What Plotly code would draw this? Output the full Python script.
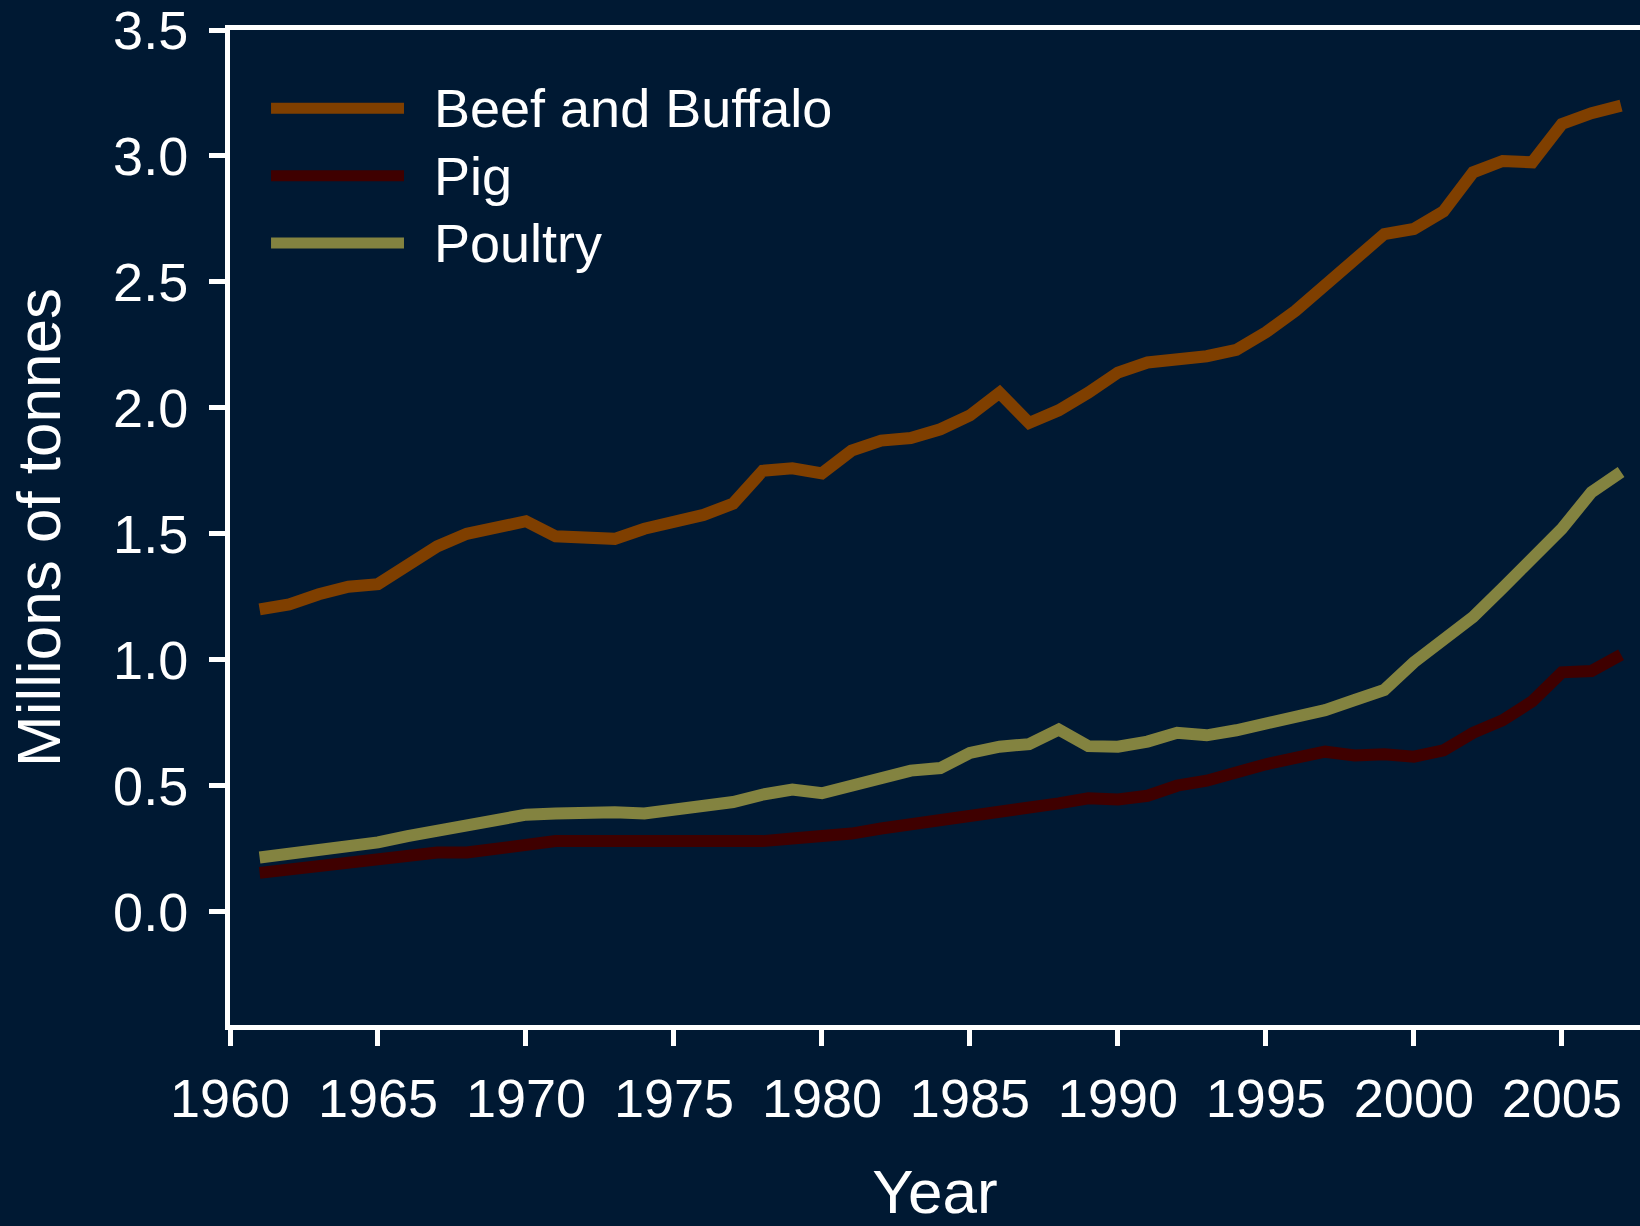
import plotly.graph_objects as go

BG = "#001933"
FONT = "Liberation Sans, Arial, sans-serif"

years = list(range(1961, 2008))

beef = [1.20, 1.22, 1.26, 1.29, 1.30, 1.38, 1.45, 1.50, 1.52, 1.55,
        1.49, 1.48, 1.48, 1.52, 1.55, 1.575, 1.62, 1.75, 1.76, 1.74,
        1.83, 1.87, 1.88, 1.915, 1.97, 2.06, 1.94, 1.99, 2.06, 2.14,
        2.18, 2.19, 2.205, 2.23, 2.30, 2.385, 2.487, 2.577, 2.69, 2.71,
        2.78, 2.935, 2.98, 2.975, 3.127, 3.17, 3.20]

pig = [0.154, 0.166, 0.18, 0.20, 0.21, 0.225, 0.235, 0.235, 0.25, 0.265,
       0.28, 0.28, 0.28, 0.275, 0.275, 0.275, 0.275, 0.28, 0.29, 0.295,
       0.31, 0.33, 0.345, 0.36, 0.375, 0.39, 0.415, 0.43, 0.45, 0.445,
       0.46, 0.50, 0.52, 0.555, 0.585, 0.61, 0.635, 0.62, 0.625, 0.615,
       0.64, 0.71, 0.76, 0.835, 0.95, 0.955, 1.02]

poultry = [0.215, 0.23, 0.24, 0.255, 0.275, 0.30, 0.32, 0.335, 0.36, 0.385,
           0.39, 0.395, 0.395, 0.39, 0.405, 0.425, 0.435, 0.465, 0.485, 0.47,
           0.50, 0.535, 0.56, 0.57, 0.63, 0.655, 0.665, 0.723, 0.657, 0.655,
           0.675, 0.71, 0.70, 0.72, 0.745, 0.77, 0.80, 0.84, 0.88, 0.99,
           1.08, 1.17, 1.285, 1.41, 1.52, 1.665, 1.745]

names = ["Beef and Buffalo", "Pig", "Poultry"]
colors = ["#7F3F00", "#3F0000", "#838340"]
y_ticks = [0.0, 0.5, 1.0, 1.5, 2.0, 2.5, 3.0, 3.5]
x_ticks = [1960, 1965, 1970, 1975, 1980, 1985, 1990, 1995, 2000, 2005]

fig = go.Figure()
for name, vals, col in zip(names, [beef, pig, poultry], colors):
    fig.add_trace(go.Scatter(x=years, y=vals, mode="lines", name=name,
                             line=dict(color=col, width=12),
                             showlegend=False))

# hand-made legend (long key lines like the original)
for i, (name, col) in enumerate(zip(names, colors)):
    ypos = 0.9213 - i * 0.0677
    fig.add_shape(type="line", xref="paper", yref="paper",
                  x0=0.0291, x1=0.1234, y0=ypos, y1=ypos,
                  line=dict(color=col, width=11))
    fig.add_annotation(xref="paper", yref="paper", x=0.143, y=ypos,
                       text=name, showarrow=False, xanchor="left",
                       yanchor="middle",
                       font=dict(size=54, color="white", family=FONT))

axis_common = dict(showline=True, linecolor="white", linewidth=5,
                   ticks="outside", tickcolor="white", tickwidth=5,
                   ticklen=16, showgrid=False, zeroline=False,
                   ticklabeloverflow="allow",
                   tickfont=dict(size=54, color="white", family=FONT))

fig.update_layout(
    width=1640, height=1226,
    paper_bgcolor=BG, plot_bgcolor=BG,
    margin=dict(l=230, r=0, t=30, b=201),
    xaxis=dict(range=[1960, 2007.64], tickvals=x_ticks, mirror=True,
               ticklabelstandoff=6,
               title=dict(text="Year", standoff=56,
                          font=dict(size=62, color="white", family=FONT)),
               **axis_common),
    yaxis=dict(range=[-0.45, 3.5], tickvals=y_ticks, tickformat=".1f",
               ticklabelstandoff=10,
               title=dict(text="Millions of tonnes", standoff=34,
                          font=dict(size=62, color="white", family=FONT)),
               **axis_common),
    showlegend=False,
)

fig.write_html("out.html", config={"displayModeBar": False},
               post_script="document.body.style.margin='0';"
                           "document.body.style.background='%s';" % BG)
